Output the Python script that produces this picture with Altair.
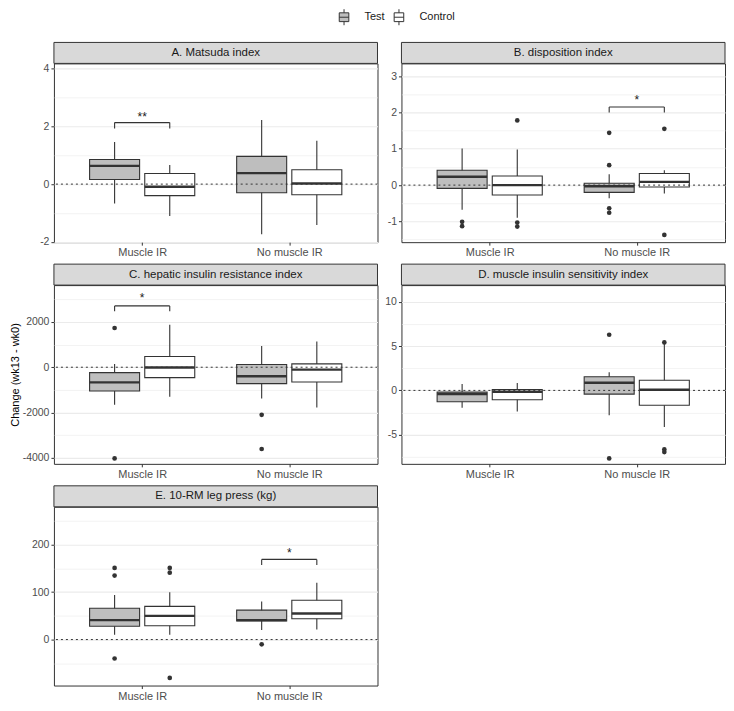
import json
import altair as alt
import numpy as np
import pandas as pd

# ---------------- data ----------------
groups = ["Muscle IR", "No muscle IR"]
treatments = ["Test", "Control"]
titles = [
    "A. Matsuda index",
    "B. disposition index",
    "C. hepatic insulin resistance index",
    "D. muscle insulin sensitivity index",
    "E. 10-RM leg press (kg)",
]
y_title = "Change (wk13 - wk0)"

# box summaries: (lower whisker, Q1, median, Q3, upper whisker)
# order: Muscle IR/Test, Muscle IR/Control, No muscle IR/Test, No muscle IR/Control
matsuda_box = [(-0.67, 0.16, 0.63, 0.85, 1.46), (-1.10, -0.40, -0.09, 0.37, 0.66),
               (-1.74, -0.30, 0.38, 0.96, 2.22), (-1.42, -0.37, 0.02, 0.50, 1.50)]
matsuda_out = [[], [], [], []]

disp_box = [(-0.68, -0.09, 0.23, 0.41, 1.01), (-0.90, -0.27, 0.00, 0.25, 0.98),
            (-0.36, -0.20, -0.03, 0.05, 0.30), (-0.23, -0.05, 0.09, 0.32, 0.41)]
disp_out = [[-1.01, -1.13], [1.78, -1.03, -1.14], [1.44, 0.55, -0.64, -0.76], [1.55, -1.37]]

hepatic_box = [(-1659, -1052, -667, -237, 148), (-1304, -459, -15, 474, 1881),
               (-1378, -726, -400, 119, 933), (-1778, -652, -104, 148, 1141)]
hepatic_out = [[1733, -4030], [], [-2104, -3615], []]

muscle_box = [(-1.97, -1.29, -0.42, -0.19, 0.72), (-2.39, -1.06, -0.15, 0.11, 0.83),
              (-2.80, -0.42, 0.87, 1.55, 2.05), (-4.13, -1.67, 0.08, 1.14, 5.35)]
muscle_out = [[], [], [6.29, -7.69], [5.42, -6.67, -6.97]]

leg_box = [(10, 28, 41, 66, 94), (10, 29, 50, 70, 100),
           (20, 39, 41, 62, 80), (21, 44, 55, 83, 120)]
leg_out = [[151, 135, -40], [151, 141, -81], [-10], []]

# significance brackets: (group, bar level, tip level, label level, label)
sig_matsuda = ("Muscle IR", 2.13, 1.93, 2.40, "**")
sig_disp = ("No muscle IR", 2.15, 2.00, 2.39, "*")
sig_hepatic = ("Muscle IR", 2711, 2475, 3155, "*")
sig_leg = ("No muscle IR", 169, 157, 186, "*")

# ---------------- layout / style ----------------
W, H = 324, 179
DODGE = 0.1875
HALF = 0.17
GREY20 = "#333333"
FONT = "Liberation Sans"

fill_scale = alt.Scale(domain=treatments, range=["#BEBEBE", "#FFFFFF"])
legend = alt.Legend(
    title=None, orient="none", direction="horizontal", legendX=282, legendY=-55,
    padding=0,
    symbolType="M-0.6,-0.55H0.6V0.55H-0.6Z M-0.6,0H0.6 M0,-0.55V-1 M0,0.55V1",
    symbolSize=256, symbolStrokeColor=GREY20, symbolStrokeWidth=1,
    labelFontSize=11, labelColor="#1A1A1A", labelOffset=12, columnPadding=5,
)


def xpos(g, t):
    return groups.index(g) + 1 + (-DODGE if t == "Test" else DODGE)


def panel(title, box, outl, sig, domain, step, ytitle=None):
    rows, pts = [], []
    k = 0
    for g in groups:
        for t in treatments:
            lo, q1, med, q3, hi = box[k]
            xc = xpos(g, t)
            rows.append(dict(group=g, treatment=t, lo=lo, q1=q1, med=med, q3=q3, hi=hi,
                             xc=xc, xl=xc - HALF, xr=xc + HALF))
            for v in outl[k]:
                pts.append(dict(group=g, treatment=t, xc=xc, v=v))
            k += 1
    box_df = pd.DataFrame(rows)

    half = step / 2
    start = np.ceil(domain[0] / half) * half
    vals = [round(float(v), 6) for v in np.arange(start, domain[1] + 1e-9, half)]
    test = f"abs(datum.value / {step} - round(datum.value / {step})) < 1e-6"

    yaxis_kw = dict(
        values=vals, labelExpr=f"({test}) ? toString(datum.value) : ''",
        gridColor="#EBEBEB",
        gridWidth={"condition": {"test": test, "value": 1.1}, "value": 0.6},
        tickOpacity={"condition": {"test": test, "value": 1}, "value": 0},
        labelOverlap=False, labelFlush=False, domain=False,
        tickColor=GREY20, tickSize=3, labelColor="#4D4D4D", labelFontSize=10.5,
        labelPadding=2,
    )
    if ytitle:
        yaxis_kw.update(title=ytitle, titleFontSize=11, titleColor="#000000",
                        titleFontWeight="normal", titlePadding=2)
    else:
        yaxis_kw.update(title=None)
    yaxis = alt.Axis(**yaxis_kw)
    yscale = alt.Scale(domain=list(domain), nice=False, zero=False)

    xaxis = alt.Axis(values=[1, 2], labelExpr=f"{json.dumps(groups)}[datum.value - 1]",
                     tickColor=GREY20, tickSize=3, labelColor="#4D4D4D", labelFontSize=11,
                     labelPadding=1.5, domain=False, grid=False, title=None, labelFlush=False)
    xscale = alt.Scale(domain=[0.4, 2.6], nice=False, zero=False)

    def X(f):
        return alt.X(f, type="quantitative", scale=xscale, axis=xaxis)

    def Y(f):
        return alt.Y(f, type="quantitative", scale=yscale, axis=yaxis)

    strip_df = pd.DataFrame({"t": [title]})
    strip = alt.Chart(strip_df).mark_rect(fill="#D9D9D9", stroke=GREY20, strokeWidth=1).encode(
        x=alt.value(0), x2=alt.value(W), y=alt.value(-21), y2=alt.value(0))
    strip_text = alt.Chart(strip_df).mark_text(fontSize=11.5, color="#1A1A1A", baseline="middle").encode(
        x=alt.value(W / 2), y=alt.value(-10.5), text="t:N")

    base = alt.Chart(box_df)
    whisk = base.mark_rule(color=GREY20, strokeWidth=1.1).encode(x=X("xc"), y=Y("lo"), y2="hi")
    boxes = base.mark_rect(stroke=GREY20, strokeWidth=1.1).encode(
        x=X("xl"), x2="xr", y=Y("q1"), y2="q3",
        fill=alt.Fill("treatment:N", scale=fill_scale, legend=legend))
    meds = base.mark_rule(color=GREY20, strokeWidth=2.4).encode(x=X("xl"), x2="xr", y=Y("med"))
    zero = alt.Chart(pd.DataFrame({"z": [0]})).mark_rule(
        color=GREY20, strokeDash=[2, 3], strokeWidth=1).encode(y=Y("z"))

    layers = [strip, strip_text, whisk, boxes, meds]
    if pts:
        layers.append(alt.Chart(pd.DataFrame(pts)).mark_circle(
            size=22, color=GREY20, opacity=1).encode(x=X("xc"), y=Y("v")))
    layers.append(zero)

    if sig:
        g, ybar, ytip, ystar, lab = sig
        sdf = pd.DataFrame([dict(xa=xpos(g, "Test"), xb=xpos(g, "Control"),
                                 xm=(xpos(g, "Test") + xpos(g, "Control")) / 2,
                                 ybar=ybar, ytip=ytip, ystar=ystar, lab=lab)])
        sb = alt.Chart(sdf)
        layers += [
            sb.mark_rule(color=GREY20, strokeWidth=1.1).encode(x=X("xa"), x2="xb", y=Y("ybar")),
            sb.mark_rule(color=GREY20, strokeWidth=1.1).encode(x=X("xa"), y=Y("ytip"), y2="ybar"),
            sb.mark_rule(color=GREY20, strokeWidth=1.1).encode(x=X("xb"), y=Y("ytip"), y2="ybar"),
            sb.mark_text(fontSize=12, color="#1A1A1A", baseline="alphabetic", dy=6).encode(
                x=X("xm"), y=Y("ystar"), text="lab:N"),
        ]
    return alt.layer(*layers).properties(width=W, height=H)


panels = [
    panel(titles[0], matsuda_box, matsuda_out, sig_matsuda, (-2.01, 4.18), 2),
    panel(titles[1], disp_box, disp_out, sig_disp, (-1.57, 3.35), 1),
    panel(titles[2], hepatic_box, hepatic_out, sig_hepatic, (-4270, 3630), 2000, ytitle=y_title),
    panel(titles[3], muscle_box, muscle_out, None, (-8.3, 11.9), 5),
    panel(titles[4], leg_box, leg_out, sig_leg, (-97, 280), 100),
]

chart = alt.ConcatChart(
    concat=panels, columns=2, spacing=alt.RowColnumber(row=43, column=24), bounds="flush",
).resolve_scale(x="independent", y="independent").properties(
    padding=0,
).configure(font=FONT).configure_view(stroke=GREY20, strokeWidth=1)

chart.save("out.html", embed_options={"renderer": "svg", "actions": False})
